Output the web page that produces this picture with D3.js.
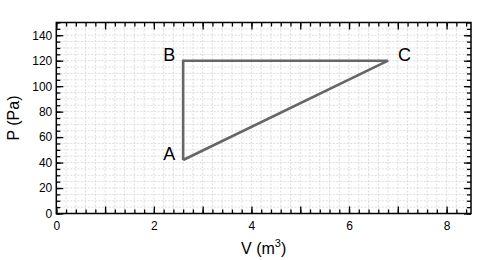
<!DOCTYPE html>
<html>
<head>
<meta charset="utf-8">
<script src="https://cdn.jsdelivr.net/npm/d3@7"></script>
<style>
  body { margin: 0; background: #fff; }
  svg { display: block; font-family: "Liberation Sans", Arial, sans-serif; }
  .axis path { display: none; }
  .axis line { stroke: #000; stroke-width: 1.3; }
  .axis text { font-size: 12px; fill: #000; }
</style>
</head>
<body>
<svg id="chart" width="494" height="260"></svg>
<script>
// cycle A -> B -> C -> A
const pointNames = ["A", "B", "C"];
const volumes = [2.6, 2.6, 6.8];
const pressures = [42, 120, 120];

const xDomain = [0, 8.5];
const yDomain = [0, 150];
const xTickLabels = [0, 2, 4, 6, 8];
const xMajorTicks = [0, 1, 2, 3, 4, 5, 6, 7, 8];
const yTickLabels = [0, 20, 40, 60, 80, 100, 120, 140];

const plotLeft = 56.3, plotRight = 471, plotTop = 22.5, plotBottom = 213.5;

let svg = d3.select("#chart");

let x = d3.scaleLinear().domain(xDomain).range([plotLeft, plotRight]);
let y = d3.scaleLinear().domain(yDomain).range([plotBottom, plotTop]);

let xMinor = d3.range(0, 8.5, 0.2).map(d => +d.toFixed(1));
let yMinor = d3.range(0, 151, 5);

// dashed grid
let grid = svg.append("g").attr("class", "grid")
    .attr("stroke", "#d4d4d4").attr("stroke-width", 0.8).attr("stroke-dasharray", "2,1.5");
grid.selectAll(".gx").data(xMinor.filter(d => d > 0)).join("line")
    .attr("x1", d => x(d)).attr("x2", d => x(d)).attr("y1", plotTop).attr("y2", plotBottom);
grid.selectAll(".gy").data(yMinor.filter(d => d > 0 && d < 150)).join("line")
    .attr("x1", plotLeft).attr("x2", plotRight).attr("y1", d => y(d)).attr("y2", d => y(d));

// inward ticks on all four sides
function ticks(axisFn, scale, values, size, transform) {
    svg.append("g").attr("class", "axis").attr("transform", transform)
        .call(axisFn(scale).tickValues(values).tickSize(-size).tickFormat(""));
}
ticks(d3.axisBottom, x, xMinor, 4, `translate(0,${plotBottom})`);
ticks(d3.axisBottom, x, xMajorTicks, 7, `translate(0,${plotBottom})`);
ticks(d3.axisTop, x, xMinor, 4, `translate(0,${plotTop})`);
ticks(d3.axisTop, x, xMajorTicks, 7, `translate(0,${plotTop})`);
ticks(d3.axisLeft, y, yMinor, 4, `translate(${plotLeft},0)`);
ticks(d3.axisLeft, y, yTickLabels, 7, `translate(${plotLeft},0)`);
ticks(d3.axisRight, y, yMinor, 4, `translate(${plotRight},0)`);
ticks(d3.axisRight, y, yTickLabels, 7, `translate(${plotRight},0)`);

// tick labels
svg.append("g").attr("class", "axis").attr("transform", `translate(0,${plotBottom})`)
    .call(d3.axisBottom(x).tickValues(xTickLabels).tickSize(0).tickPadding(8));
svg.append("g").attr("class", "axis").attr("transform", `translate(${plotLeft},0)`)
    .call(d3.axisLeft(y).tickValues(yTickLabels).tickSize(0).tickPadding(4));

// frame
svg.append("rect")
    .attr("x", plotLeft).attr("y", plotTop)
    .attr("width", plotRight - plotLeft).attr("height", plotBottom - plotTop)
    .attr("fill", "none").attr("stroke", "#000").attr("stroke-width", 1.5);

// the cycle
let pts = pointNames.map((n, i) => ({ name: n, v: volumes[i], p: pressures[i] }));
let line = d3.line().x(d => x(d.v)).y(d => y(d.p));
svg.append("path")
    .datum(pts.concat([pts[0]]))
    .attr("d", line)
    .attr("fill", "none")
    .attr("stroke", "#666")
    .attr("stroke-width", 2.6)
    .attr("stroke-linejoin", "miter");

svg.selectAll(".pt-label").data(pts).join("text")
    .attr("class", "pt-label")
    .attr("x", d => d.name == "C" ? x(d.v) + 10 : x(d.v) - 8)
    .attr("y", d => y(d.p))
    .attr("text-anchor", d => d.name == "C" ? "start" : "end")
    .attr("font-size", 18)
    .text(d => d.name);

// axis titles
let xTitle = svg.append("text")
    .attr("x", (plotLeft + plotRight) / 2).attr("y", 254)
    .attr("text-anchor", "middle").attr("font-size", 16);
xTitle.append("tspan").text("V (m");
xTitle.append("tspan").attr("font-size", 11).attr("dy", -7).text("3");
xTitle.append("tspan").attr("dy", 7).text(")");

svg.append("text")
    .attr("transform", `translate(19,${(plotTop + plotBottom) / 2}) rotate(-90)`)
    .attr("text-anchor", "middle").attr("font-size", 16)
    .text("P (Pa)");
</script>
</body>
</html>
